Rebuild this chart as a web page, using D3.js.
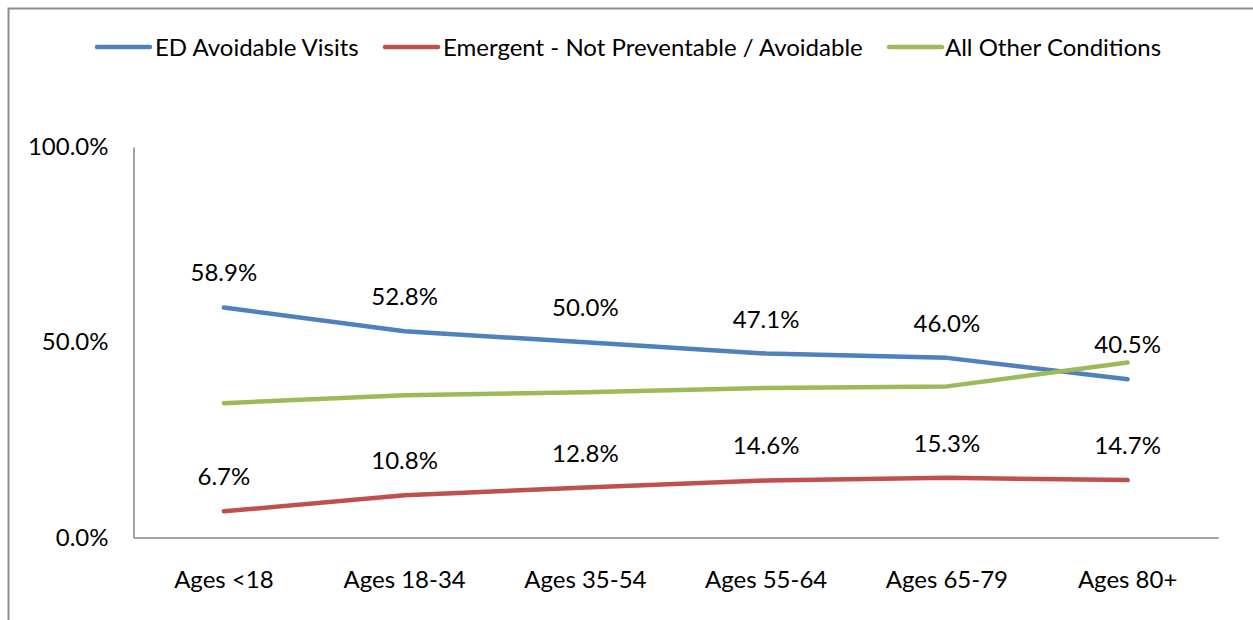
<!DOCTYPE html>
<html>
<head>
<meta charset="utf-8">
<script src="https://cdn.jsdelivr.net/npm/d3@7"></script>
<style>
  html, body { margin: 0; padding: 0; background: #fff; }
  svg text { font-family: Lato, "Open Sans", sans-serif; fill: #000; }
</style>
</head>
<body>
<svg id="chart" width="1253" height="620"></svg>
<script>
// Share of ED visits by age group
const categories = ["Ages <18", "Ages 18-34", "Ages 35-54", "Ages 55-64", "Ages 65-79", "Ages 80+"];
const seriesNames = ["ED Avoidable Visits", "Emergent - Not Preventable / Avoidable", "All Other Conditions"];
const avoidable = [58.9, 52.8, 50.0, 47.1, 46.0, 40.5];
const emergent = [6.7, 10.8, 12.8, 14.6, 15.3, 14.7];
const otherConditions = [34.4, 36.4, 37.2, 38.3, 38.7, 44.8];
const yTicks = [0, 50, 100];
const colors = ["#4F81BD", "#C0504D", "#9BBB59"];

const series = [
  { name: seriesNames[0], values: avoidable, color: colors[0], labelled: true },
  { name: seriesNames[1], values: emergent, color: colors[1], labelled: true },
  { name: seriesNames[2], values: otherConditions, color: colors[2], labelled: false }
];

const svg = d3.select("#chart");
const fontSize = 24;

// outer frame
svg.append("rect")
  .attr("x", 8.5).attr("y", 8.5)
  .attr("width", 1260).attr("height", 640)
  .attr("fill", "none").attr("stroke", "#8c8c8c").attr("stroke-width", 2);

const plot = { left: 133.5, right: 1218, top: 147, bottom: 537.5 };

const x = d3.scaleBand().domain(categories).range([plot.left, plot.right]).padding(0);
const y = d3.scaleLinear().domain([0, 100]).range([plot.bottom, plot.top]);

// y axis
const yAxis = svg.append("g")
  .attr("transform", `translate(${plot.left},0)`)
  .call(d3.axisLeft(y).tickValues(yTicks).tickSize(0).tickPadding(25)
    .tickFormat(d => d3.format(".1f")(d) + "%"));
yAxis.select(".domain").attr("stroke", "#868686").attr("stroke-width", 1.5);
yAxis.selectAll("text").attr("font-size", fontSize).attr("font-family", "Lato, sans-serif").attr("fill", "#000");

// x axis
const xAxis = svg.append("g")
  .attr("transform", `translate(0,${plot.bottom})`)
  .call(d3.axisBottom(x).tickSize(0).tickPadding(33));
xAxis.select(".domain").attr("stroke", "#868686").attr("stroke-width", 1.5);
xAxis.selectAll("text").attr("font-size", fontSize).attr("font-family", "Lato, sans-serif").attr("fill", "#000");

const cx = c => x(c) + x.bandwidth() / 2;
const line = d3.line().x((d, i) => cx(categories[i])).y(d => y(d));

svg.append("g").selectAll("path")
  .data(series)
  .join("path")
  .attr("d", s => line(s.values))
  .attr("fill", "none")
  .attr("stroke", s => s.color)
  .attr("stroke-width", 4.5)
  .attr("stroke-linecap", "round")
  .attr("stroke-linejoin", "round");

// value labels above the points
series.filter(s => s.labelled).forEach(s => {
  svg.append("g").selectAll("text")
    .data(s.values)
    .join("text")
    .attr("x", (d, i) => cx(categories[i]))
    .attr("y", d => y(d) - 26)
    .attr("text-anchor", "middle")
    .attr("font-size", fontSize)
    .text(d => d3.format(".1f")(d) + "%");
});

// legend
const legendItems = [
  { x: 97, textX: 155 },
  { x: 385, textX: 443 },
  { x: 889, textX: 945 }
];
const legend = svg.append("g");
series.forEach((s, i) => {
  const g = legend.append("g");
  g.append("line")
    .attr("x1", legendItems[i].x).attr("x2", legendItems[i].x + 53)
    .attr("y1", 47).attr("y2", 47)
    .attr("stroke", s.color).attr("stroke-width", 4.5).attr("stroke-linecap", "round");
  g.append("text")
    .attr("x", legendItems[i].textX).attr("y", 55.5)
    .attr("font-size", fontSize)
    .text(s.name);
});
</script>
</body>
</html>
